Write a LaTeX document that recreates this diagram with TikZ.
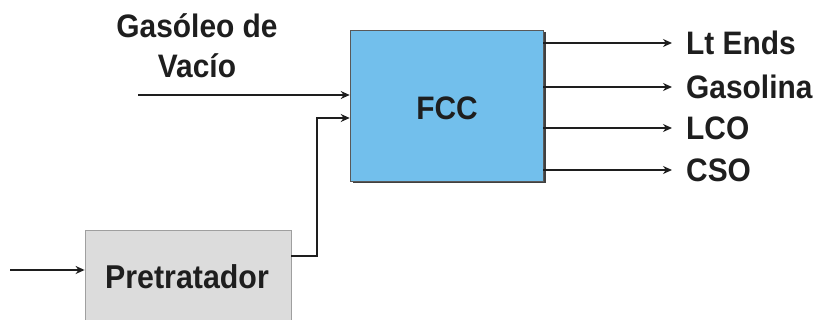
\documentclass[tikz,border=0pt]{standalone}
\usepackage{fontspec}
\setmainfont{Liberation Sans}[FakeStretch=0.92]
\usetikzlibrary{arrows.meta,shadows}
\definecolor{fccblue}{HTML}{72BFEC}
\definecolor{pregray}{HTML}{DCDCDC}
\definecolor{ink}{HTML}{1E1E1E}
\tikzset{
  lbl/.style={font=\fontsize{32.5}{40}\selectfont\bfseries, text=ink, inner sep=0pt},
  flow/.style={draw=ink, line width=2.8pt, -{Stealth[length=9pt,width=8pt]}},
  fccbox/.style={draw=gray!70!black, line width=0.6pt, fill=fccblue,
    minimum width=193pt, minimum height=151pt, inner sep=0pt,
    drop shadow={shadow xshift=2.5pt, shadow yshift=-2.5pt, fill=black!75, opacity=1}},
  prebox/.style={draw=gray!75, line width=0.8pt, fill=pregray,
    minimum width=206pt, minimum height=93pt, inner sep=0pt}
}
\begin{document}
\begin{tikzpicture}[x=1pt,y=-1pt]
\useasboundingbox (0,0) rectangle (819,320);
\clip (0,0) rectangle (819,320);
% FCC box
\node[fccbox] (fcc) at (446.5,105.5) {};
\node[lbl] (fcct) at (447,108) {FCC};
% Pretratador box
\node[prebox] (pre) at (188,276.5) {};
\node[lbl, font=\fontsize{33}{40}\selectfont\bfseries] (pret) at (187,277) {Pretratador};
% Gasoleo label
\node[lbl, align=center] (gas) at (197,46) {Gasóleo de\\Vacío};
% inputs
\coordinate (g0) at (138,95);
\draw[flow] (g0) -- (g0 -| fcc.west);
\coordinate (p0) at (291,256);
\coordinate (p1) at (317,256);
\coordinate (p2) at (317,118);
\draw[flow] (p0) -- (p1) -- (p2) -- (p2 -| fcc.west);
\coordinate (i0) at (10,270);
\draw[flow] (i0) -- (i0 -| pre.west);
% outputs
\foreach \y/\name/\txt in {43/o1/Lt Ends, 87/o2/Gasolina, 128/o3/LCO, 170/o4/CSO}{
  \coordinate (\name s) at (543,\y);
  \node[lbl, anchor=west] (\name) at (686,\y) {\txt};
  \draw[flow] (\name s) -- ([xshift=-14pt]\name.west);
}
\end{tikzpicture}
\end{document}
